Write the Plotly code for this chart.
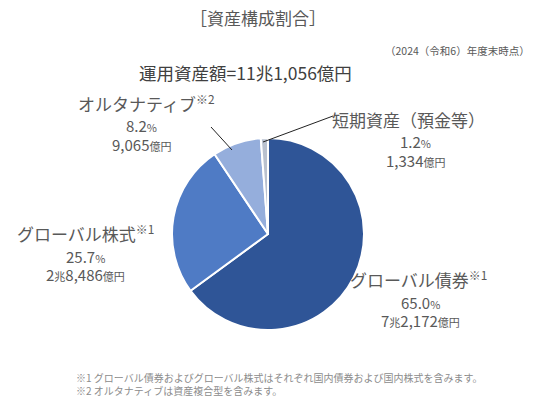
import plotly.graph_objects as go

# 資産構成割合 (2024年度末)
labels = ['グローバル債券', 'グローバル株式', 'オルタナティブ', '短期資産（預金等）']
notes = ['※1', '※1', '※2', '']
shares = [65.0, 25.7, 8.2, 1.2]
amounts = [72172, 28486, 9065, 1334]  # 億円
colors = ['#2F5597', '#4F7BC5', '#95AEDC', '#B9C1CF']

W, H = 551, 401
FONT = 'Noto Sans CJK JP, Roboto, sans-serif'
TXT = '#595959'


def oku(v):
    cho, rest = divmod(v, 10000)
    s = '<span style="font-size:11px">億円</span>'
    if cho:
        return f'{cho}<span style="font-size:11px">兆</span>{rest:,}' + s
    return f'{rest:,}' + s


def px(x, y):
    return x / W, 1 - y / H


def note(x, y, text, size, color=TXT, xanchor='center', **kw):
    fig.add_annotation(x=x / W, y=1 - y / H, xref='paper', yref='paper',
                       xanchor=xanchor, yanchor='middle', text=text, showarrow=False,
                       font=dict(size=size, color=color), **kw)


fig = go.Figure()
fig.add_trace(go.Pie(
    labels=labels, values=shares, sort=False, direction='clockwise',
    marker=dict(colors=colors, line=dict(color='white', width=2)),
    textinfo='none', hoverinfo='label+percent', showlegend=False,
    domain=dict(x=[172 / W, 364 / W], y=[1 - 330 / H, 1 - 138 / H]),
))

# ラベル位置 (px): 見出し中心x, 数値中心x, 見出しy
pos = [(418, 420, 279), (85, 85, 233), (146, 141, 103), (408, 415, 119)]
for lab, nt, sh, am, (xh, xn, y) in zip(labels, notes, shares, amounts, pos):
    head = lab + (f'<sup style="font-size:11px">{nt}</sup>' if nt else '')
    note(xh, y, head, 17)
    note(xn, y + 23, f'{sh:.1f}<span style="font-size:11px">%</span>', 15)
    note(xn, y + 41, oku(am), 15)

# 引き出し線
for (x0, y0), (x1, y1) in [((232, 150), (211, 127)), ((263, 142), (333, 116))]:
    fig.add_shape(type='line', xref='paper', yref='paper',
                  x0=px(x0, y0)[0], y0=px(x0, y0)[1], x1=px(x1, y1)[0], y1=px(x1, y1)[1],
                  line=dict(color='#222', width=1))

note(258, 17, '［資産構成割合］', 17)
note(532, 50, '（2024（令和6）年度末時点）', 10.5, xanchor='right')
note(245, 72, '運用資産額=11兆1,056億円', 17.5, color='#404040')
note(74, 384, '※1 グローバル債券およびグローバル株式はそれぞれ国内債券および国内株式を含みます。'
              '<br>※2 オルタナティブは資産複合型を含みます。', 10, color='#8C8C8C',
     xanchor='left', align='left')

fig.update_layout(width=W, height=H, margin=dict(l=0, r=0, t=0, b=0),
                  paper_bgcolor='white', plot_bgcolor='white', font=dict(family=FONT))
fig.write_html('out.html', config={'displayModeBar': False},
               post_script="document.body.style.margin='0';")
